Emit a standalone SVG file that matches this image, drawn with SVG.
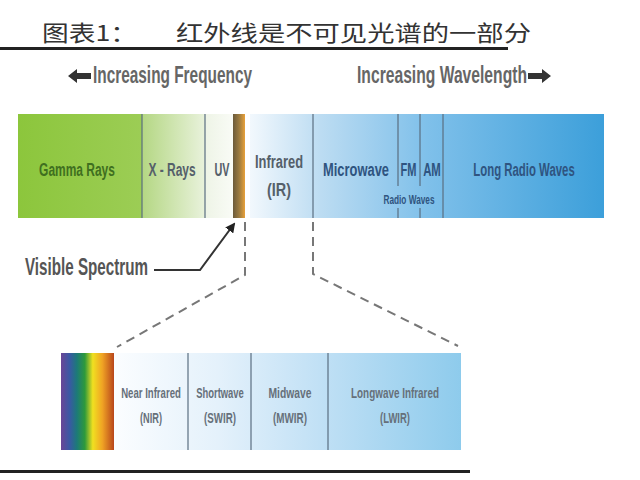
<svg xmlns="http://www.w3.org/2000/svg" width="640" height="480" viewBox="0 0 640 480">
<defs>
<style>
.t{font-family:"Liberation Sans",Arial,sans-serif;font-weight:bold;text-anchor:middle}
.lbl{font-size:19px;fill:#55606a}
.g{fill:#3f6f1f}
.b{fill:#2f5480}
.s{font-size:15px;fill:#66707a}
.sep{stroke:#5a6e80;stroke-width:1.2}
.dash{fill:none;stroke:#777;stroke-width:2;stroke-dasharray:9 6}
</style>
<linearGradient id="green" x1="0" x2="1"><stop offset="0" stop-color="#8cc63c"/><stop offset="1" stop-color="#9ccd55"/></linearGradient>
<linearGradient id="xray" x1="0" x2="1"><stop offset="0" stop-color="#b4d783"/><stop offset="1" stop-color="#e9f2dc"/></linearGradient>
<linearGradient id="uv" x1="0" x2="1"><stop offset="0" stop-color="#eef4e6"/><stop offset="1" stop-color="#f9fbf6"/></linearGradient>
<linearGradient id="blue" gradientUnits="userSpaceOnUse" x1="250" x2="604" y1="0" y2="0"><stop offset="0" stop-color="#f2f8fd"/><stop offset="0.2" stop-color="#bcdcf2"/><stop offset="0.5" stop-color="#7fc0ea"/><stop offset="1" stop-color="#3c9fda"/></linearGradient>
<linearGradient id="ir" gradientUnits="userSpaceOnUse" x1="114" x2="461" y1="0" y2="0"><stop offset="0" stop-color="#fbfdff"/><stop offset="0.3" stop-color="#e4f1fb"/><stop offset="0.6" stop-color="#c0e0f5"/><stop offset="1" stop-color="#8ecbec"/></linearGradient>
<linearGradient id="rainbow" x1="0" x2="1"><stop offset="0" stop-color="#6a4596"/><stop offset="0.16" stop-color="#3a58a4"/><stop offset="0.3" stop-color="#1c7a78"/><stop offset="0.45" stop-color="#2e9a3a"/><stop offset="0.6" stop-color="#f0e020"/><stop offset="0.78" stop-color="#f0a324"/><stop offset="1" stop-color="#b8461c"/></linearGradient>
<linearGradient id="vis" x1="0" x2="1"><stop offset="0" stop-color="#6b5a3a"/><stop offset="0.5" stop-color="#9a7a40"/><stop offset="1" stop-color="#e9a13a"/></linearGradient>
<marker id="ah" viewBox="0 0 10 10" refX="8" refY="5" markerWidth="5" markerHeight="5" orient="auto"><path d="M0,0 L10,5 L0,10 z" fill="#222"/></marker>
</defs>
<rect width="640" height="480" fill="#fff"/>
<g id="title">
<text x="42" y="41" font-family="Noto Sans CJK SC,sans-serif" font-size="22" fill="#333" textLength="95" lengthAdjust="spacingAndGlyphs">图表1：</text>
<text x="176" y="41" font-family="Noto Sans CJK SC,sans-serif" font-size="22" fill="#333" textLength="355" lengthAdjust="spacingAndGlyphs">红外线是不可见光谱的一部分</text>
<rect x="0" y="47" width="508" height="3" fill="#222"/>
</g>
<g id="headers">
<text x="93" y="83" class="t" font-size="24" fill="#666" textLength="159" lengthAdjust="spacingAndGlyphs" style="text-anchor:start">Increasing Frequency</text>
<path d="M68,76 L77,69 L77,73 L91,73 L91,79 L77,79 L77,83 z" fill="#333"/>
<text x="357" y="83" class="t" font-size="24" fill="#666" textLength="170" lengthAdjust="spacingAndGlyphs" style="text-anchor:start">Increasing Wavelength</text>
<path d="M551,76 L542,69 L542,73 L528,73 L528,79 L542,79 L542,83 z" fill="#333"/>
</g>
<g id="spectrum">
<rect x="18" y="114" width="124" height="104" fill="url(#green)"/>
<rect x="142" y="114" width="63" height="104" fill="url(#xray)"/>
<rect x="205" y="114" width="28" height="104" fill="url(#uv)"/>
<rect x="233" y="114" width="12" height="104" fill="url(#vis)"/>
<rect x="250" y="114" width="354" height="104" fill="url(#blue)"/>
<line class="sep" x1="142" y1="114" x2="142" y2="218"/>
<line class="sep" x1="205" y1="114" x2="205" y2="218"/>
<line class="sep" x1="313" y1="114" x2="313" y2="218"/>
<line class="sep" x1="398" y1="114" x2="398" y2="186"/>
<line class="sep" x1="398" y1="208" x2="398" y2="218"/>
<line class="sep" x1="420" y1="114" x2="420" y2="186"/>
<line class="sep" x1="420" y1="208" x2="420" y2="218"/>
<line class="sep" x1="443" y1="114" x2="443" y2="218"/>
<text class="t lbl g" transform="translate(77,176) scale(0.63,1)">Gamma Rays</text>
<text class="t lbl" transform="translate(172,176) scale(0.63,1)">X - Rays</text>
<text class="t lbl" transform="translate(222,176) scale(0.57,1)">UV</text>
<text class="t lbl" transform="translate(279,168) scale(0.68,1)">Infrared</text>
<text class="t lbl" transform="translate(279,196) scale(0.76,1)">(IR)</text>
<text class="t lbl b" transform="translate(356,176) scale(0.68,1)">Microwave</text>
<text class="t lbl b" transform="translate(408.5,176) scale(0.58,1)">FM</text>
<text class="t lbl b" transform="translate(432,176) scale(0.6,1)">AM</text>
<text class="t lbl b" transform="translate(524,176) scale(0.6,1)">Long Radio Waves</text>
<text x="409" y="204" class="t b" font-size="12" textLength="51" lengthAdjust="spacingAndGlyphs">Radio Waves</text>
</g>
<g id="visible-label">
<text x="25" y="275" class="t" font-size="24" fill="#555" textLength="123" lengthAdjust="spacingAndGlyphs" style="text-anchor:start">Visible Spectrum</text>
</g>
<g id="connectors">
<polyline points="154,270 200,270 234,224" fill="none" stroke="#333" stroke-width="2" marker-end="url(#ah)"/>
<polyline class="dash" points="245,222 245,275 117,347"/>
<polyline class="dash" points="313,222 313,274 458,346"/>
</g>
<g id="infrared-detail">
<rect x="61" y="353" width="53" height="97" fill="url(#rainbow)"/>
<rect x="114" y="353" width="347" height="97" fill="url(#ir)"/>
<line class="sep" x1="188" y1="353" x2="188" y2="450"/>
<line class="sep" x1="251" y1="353" x2="251" y2="450"/>
<line class="sep" x1="328" y1="353" x2="328" y2="450"/>
<text class="t s" transform="translate(151,398) scale(0.64,1)">Near Infrared</text>
<text x="151" y="423" class="t s" textLength="22" lengthAdjust="spacingAndGlyphs">(NIR)</text>
<text class="t s" transform="translate(220,398) scale(0.63,1)">Shortwave</text>
<text x="220" y="423" class="t s" textLength="32" lengthAdjust="spacingAndGlyphs">(SWIR)</text>
<text x="290" y="398" class="t s" textLength="43" lengthAdjust="spacingAndGlyphs">Midwave</text>
<text x="290" y="423" class="t s" textLength="34" lengthAdjust="spacingAndGlyphs">(MWIR)</text>
<text x="395" y="398" class="t s" textLength="88" lengthAdjust="spacingAndGlyphs">Longwave Infrared</text>
<text x="395" y="423" class="t s" textLength="30" lengthAdjust="spacingAndGlyphs">(LWIR)</text>
<rect x="0" y="470" width="470" height="3" fill="#222"/>
</g>
</svg>
